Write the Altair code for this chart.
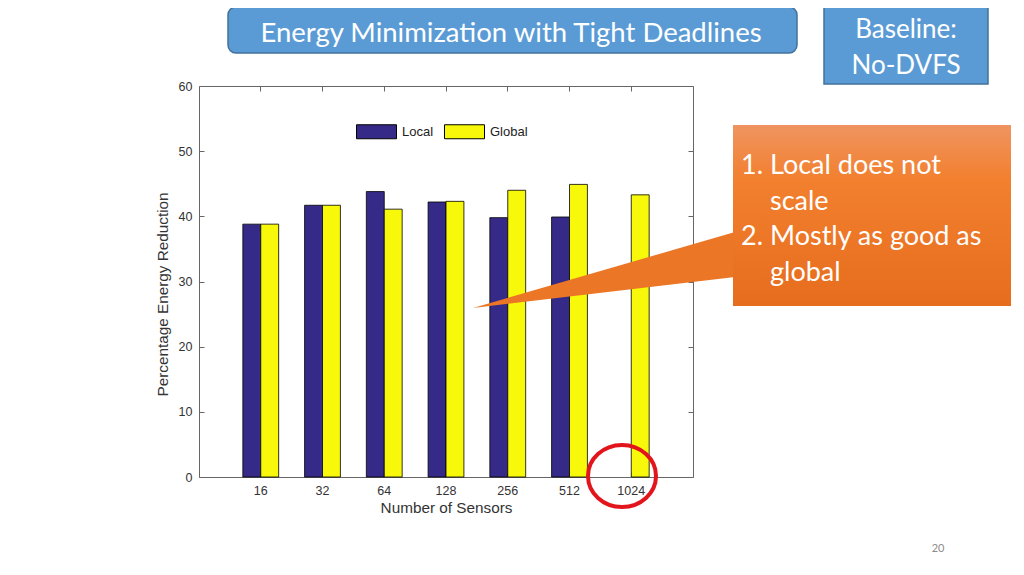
import altair as alt
import pandas as pd

# chart values
sensors = ["16", "32", "64", "128", "256", "512", "1024"]
series = ["Local", "Global"]
local_vals = [38.8, 41.7, 43.8, 42.2, 39.8, 39.9, None]  # no Local bar at 1024
global_vals = [38.8, 41.7, 41.1, 42.3, 44.0, 44.9, 43.3]
y_ticks = [0, 10, 20, 30, 40, 50, 60]

# slide texts
slide_title = ["Energy Minimization with Tight Deadlines"]
baseline_lines = ["Baseline:", "No-DVFS"]
note_numbers = ["1.", "", "2.", ""]
note_lines = ["Local does not", "scale", "Mostly as good as", "global"]
page_no = ["20"]

df = pd.DataFrame({
    "Sensors": sensors * 2,
    "Series": ["Local"] * len(sensors) + ["Global"] * len(sensors),
    "Value": local_vals + global_vals,
})

AXIS_FONT = "Liberation Sans"
SLIDE_FONT = "Lato"
ink = "#333333"

# main bars with left / bottom axes (ticks pointing inward)
bars = alt.Chart(df).mark_bar(stroke="black", strokeWidth=0.8).encode(
    x=alt.X("Sensors:N", sort=sensors, title="Number of Sensors",
            scale=alt.Scale(paddingInner=0.42, paddingOuter=0.71),
            axis=alt.Axis(orient="bottom", offset=-5, tickSize=5, domain=False, labelAngle=0,
                          labelPadding=7, labelFont=AXIS_FONT, labelFontSize=12.5, labelColor=ink,
                          titleFont=AXIS_FONT, titleFontSize=15.3, titleFontWeight="normal",
                          titleColor=ink, titlePadding=4, tickColor="#666")),
    xOffset=alt.XOffset("Series:N", sort=series),
    y=alt.Y("Value:Q", title="Percentage Energy Reduction",
            scale=alt.Scale(domain=[0, 60]),
            axis=alt.Axis(orient="left", offset=-5, tickSize=5, domain=False, values=y_ticks,
                          labelPadding=7, labelFont=AXIS_FONT, labelFontSize=12.5, labelColor=ink,
                          titleFont=AXIS_FONT, titleFontSize=15.3, titleFontWeight="normal",
                          titleColor=ink, titlePadding=8, titleY=208, tickColor="#666")),
    color=alt.Color("Series:N", sort=series,
                    scale=alt.Scale(domain=series, range=["#352a87", "#f8f80a"]),
                    legend=alt.Legend(orient="none", legendX=157, legendY=25, direction="horizontal",
                                      title=None, symbolType="M-1,-0.35H1V0.35H-1Z", symbolSize=1600,
                                      symbolStrokeColor="black", symbolStrokeWidth=1, symbolOpacity=1,
                                      labelFont=AXIS_FONT, labelFontSize=13, labelColor="#222",
                                      labelOffset=5, columnPadding=8, padding=0)),
)

# invisible copy that only carries the top / right inner ticks
frame_ticks = alt.Chart(df).mark_bar(opacity=0).encode(
    x=alt.X("Sensors:N", sort=sensors,
            axis=alt.Axis(orient="top", offset=-5, tickSize=5, domain=False, labels=False,
                          title=None, tickColor="#666")),
    y=alt.Y("Value:Q", scale=alt.Scale(domain=[0, 60]),
            axis=alt.Axis(orient="right", offset=-5, tickSize=5, domain=False, labels=False,
                          title=None, values=y_ticks, tickColor="#666")),
)

# slide decorations
title_df = pd.DataFrame({"t": slide_title})
title_box = alt.Chart(title_df).mark_rect(
    fill="#5b9bd5", stroke="#41719c", strokeWidth=1.5, cornerRadius=8
).encode(x=alt.value(29), x2=alt.value(598), y=alt.value(-79), y2=alt.value(-33))
title_text = alt.Chart(title_df).mark_text(
    font=SLIDE_FONT, fontSize=27.5, color="white", align="center", baseline="middle"
).encode(x=alt.value(312), y=alt.value(-52), text="t:N")

base_df = pd.DataFrame({"t": baseline_lines, "row": [0, 1]})
base_box = alt.Chart(base_df.head(1)).mark_rect(
    fill="#5b9bd5", stroke="#41719c", strokeWidth=1.5
).encode(x=alt.value(625), x2=alt.value(789), y=alt.value(-81), y2=alt.value(-2))
base_text = alt.Chart(base_df).mark_text(
    font=SLIDE_FONT, fontSize=26, color="white", align="center", baseline="middle"
).encode(x=alt.value(707),
         y=alt.Y("row:Q", axis=None, scale=alt.Scale(domain=[0, 1], range=[-56, -20])),
         text="t:N")

orange = alt.LinearGradient(
    gradient="linear", x1=0, x2=0, y1=0, y2=1,
    stops=[alt.GradientStop(color="#ef9460", offset=0),
           alt.GradientStop(color="#f2802f", offset=0.3),
           alt.GradientStop(color="#e66d1d", offset=1)])
note_df = pd.DataFrame({"num": note_numbers, "t": note_lines, "row": [0, 1, 2, 3]})
pointer = alt.Chart(note_df.head(1)).mark_point(
    shape="M0,0L262,-76L262,-31Z", size=4, filled=True, fill="#ea7626", opacity=1, strokeWidth=0
).encode(x=alt.value(274), y=alt.value(222))
note_box = alt.Chart(note_df.head(1)).mark_rect(fill=orange).encode(
    x=alt.value(534), x2=alt.value(814), y=alt.value(39), y2=alt.value(220))
note_num = alt.Chart(note_df).mark_text(
    font=SLIDE_FONT, fontSize=27, color="white", align="left", baseline="middle"
).encode(x=alt.value(542),
         y=alt.Y("row:Q", axis=None, scale=alt.Scale(domain=[0, 3], range=[80, 187])),
         text="num:N")
note_text = alt.Chart(note_df).mark_text(
    font=SLIDE_FONT, fontSize=27, color="white", align="left", baseline="middle"
).encode(x=alt.value(571),
         y=alt.Y("row:Q", axis=None, scale=alt.Scale(domain=[0, 3], range=[80, 187])),
         text="t:N")

ring = alt.Chart(title_df).mark_point(
    shape="M-34,0A34,31 0 1,0 34,0A34,31 0 1,0 -34,0Z", size=4, filled=False,
    stroke="#e3151c", strokeWidth=4, opacity=1
).encode(x=alt.value(423), y=alt.value(390))

page = alt.Chart(pd.DataFrame({"t": page_no})).mark_text(
    font=SLIDE_FONT, fontSize=11, color="#8c8c8c", align="center", baseline="middle"
).encode(x=alt.value(739), y=alt.value(463), text="t:N")

chart = alt.layer(
    bars, frame_ticks, title_box, title_text, base_box, base_text,
    pointer, note_box, note_num, note_text, ring, page
).resolve_axis(
    x="independent", y="independent"
).resolve_scale(
    y="independent"
).properties(
    width=494, height=391,
    padding={"left": 191, "top": 78, "right": 318, "bottom": 80},
    autosize=alt.AutoSizeParams(type="none"),
).configure_axis(
    grid=False
).configure_view(
    stroke="#666", strokeWidth=1
)

chart.save("out.html", embed_options={"renderer": "svg", "actions": False})
